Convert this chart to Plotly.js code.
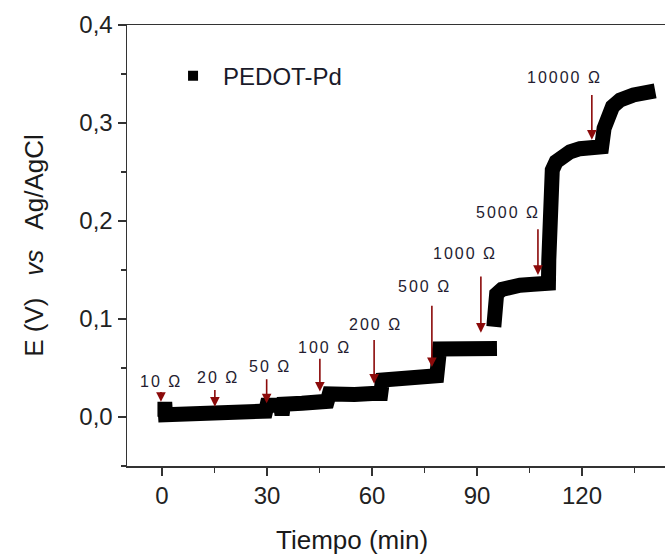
<!DOCTYPE html>
<html><head><meta charset="utf-8">
<script src="https://cdn.plot.ly/plotly-3.0.1.min.js"></script>
<style>body{margin:0;background:#fff}#chart{width:665px;height:556px}</style>
</head><body><div id="chart"></div>
<script>
// ---- data ----
const seriesName = 'PEDOT-Pd';
const timeMin = [-1.3, 0.9, 1.0, 5, 10, 15, 20, 25, 29.6,
  30.0, 33.9, 34.3, 34.7, 40, 45, 47.2,
  47.8, 50, 55, 60, 62.5,
  63.0, 67, 72, 76, 78.5,
  79.3, 85, 89, 91, 93, 95.7,
  null,
  94.8, 94.9, 95.6, 97.1, 98.9, 102.3, 106.1, 110.4,
  110.5, 110.5, 110.9, 111.5, 112.6, 114.2, 116.6, 119.4, 122.3, 124.2, 125.6,
  126.3, 127.2, 128.7, 130.9, 134.7, 140.9];
const potentialV = [0.008, 0.008, 0.0023, 0.0025, 0.003, 0.0035, 0.004, 0.005, 0.006,
  0.012, 0.012, 0.002, 0.013, 0.014, 0.016, 0.016,
  0.0235, 0.0225, 0.023, 0.024, 0.024,
  0.0378, 0.039, 0.040, 0.041, 0.042,
  0.0695, 0.070, 0.0705, 0.072, 0.0705, 0.070,
  null,
  0.0921, 0.1177, 0.1255, 0.1303, 0.133, 0.1344, 0.1354, 0.1364,
  0.16, 0.2283, 0.2418, 0.252, 0.2605, 0.2663, 0.2707, 0.2738, 0.2752, 0.2742, 0.2758,
  0.2946, 0.3064, 0.3166, 0.3235, 0.3286, 0.3327];

const resistLabels = ['10 Ω', '20 Ω', '50 Ω', '100 Ω', '200 Ω', '500 Ω', '1000 Ω', '5000 Ω', '10000 Ω'];
const labelTime = [-0.3, 16.0, 30.9, 46.3, 61.1, 74.9, 86.7, 98.9, 115.0];
const labelE = [0.0367, 0.0403, 0.052, 0.0714, 0.0949, 0.1327, 0.1668, 0.209, 0.3464];
const arrowTime = [-0.3, 15.1, 29.9, 45.1, 60.6, 77.1, 91.1, 107.4, 122.8];
const arrowTailE = [0.027, 0.029, 0.040, 0.061, 0.080, 0.115, 0.145, 0.193, 0.330];
const arrowTipE = [0.0155, 0.0105, 0.014, 0.026, 0.034, 0.051, 0.086, 0.145, 0.283];

const xTickVals = [0, 30, 60, 90, 120];
const yTickVals = [0.0, 0.1, 0.2, 0.3, 0.4];

// ---- figure ----
const traces = [
  {x: timeMin, y: potentialV, type: 'scatter', mode: 'lines', connectgaps: false,
   line: {color: '#000', width: 15}, showlegend: false, hoverinfo: 'x+y'},
  {x: [null], y: [null], type: 'scatter', mode: 'markers', name: seriesName,
   marker: {symbol: 'square', size: 10, color: '#000'}}
];

const annotations = [];
resistLabels.forEach((t, i) => {
  annotations.push({x: labelTime[i], y: labelE[i], xref: 'x', yref: 'y',
    text: '<span style="letter-spacing:2px">' + t + '</span>', showarrow: false,
    font: {family: 'Liberation Sans, Arial, sans-serif', size: 16, color: '#241c30'},
    xanchor: 'center', yanchor: 'middle'});
  annotations.push({x: arrowTime[i], y: arrowTipE[i], xref: 'x', yref: 'y',
    ax: arrowTime[i], ay: arrowTailE[i], axref: 'x', ayref: 'y',
    text: '', showarrow: true, arrowhead: 2, arrowsize: 1.2, arrowwidth: 1.6,
    arrowcolor: '#8b0a0a'});
});
annotations.push({xref: 'paper', yref: 'paper', x: 0.418, y: -0.168,
  text: 'Tiempo (min)', showarrow: false, xanchor: 'center', yanchor: 'middle',
  font: {family: 'Liberation Sans, Arial, sans-serif', size: 26, color: '#1a1a1a'}});

const layout = {
  width: 665, height: 556,
  margin: {l: 127, r: 0, t: 25, b: 90},
  paper_bgcolor: '#fff', plot_bgcolor: '#fff',
  separators: ',.',
  font: {family: 'Liberation Sans, Arial, sans-serif', color: '#222'},
  showlegend: true,
  legend: {x: 0.067, y: 0.884, xanchor: 'left', yanchor: 'middle', itemwidth: 50,
    bgcolor: 'rgba(0,0,0,0)', font: {size: 24, color: '#1a1a2a'}},
  xaxis: {range: [-10, 143.7], tickvals: xTickVals, ticks: 'outside', ticklen: 8, tickwidth: 1.5,
    tickcolor: '#333', showline: true, linecolor: '#333', linewidth: 1.5, mirror: true,
    showgrid: false, zeroline: false, tickfont: {size: 24, color: '#222'},
    minor: {dtick: 15, tick0: 0, ticks: 'outside', ticklen: 5, tickwidth: 1.5, tickcolor: '#333', showgrid: false}},
  yaxis: {range: [-0.05, 0.4], tickvals: yTickVals, tickformat: '.1f', ticks: 'outside', ticklen: 8, tickwidth: 1.5,
    tickcolor: '#333', showline: true, linecolor: '#333', linewidth: 1.5, mirror: true,
    showgrid: false, zeroline: false, tickfont: {size: 24, color: '#222'},
    minor: {dtick: 0.05, tick0: 0, ticks: 'outside', ticklen: 5, tickwidth: 1.5, tickcolor: '#333', showgrid: false},
    title: {text: 'E (V)   <i>vs</i>   Ag/AgCl', standoff: 28,
      font: {size: 26, color: '#1a1a1a', family: 'Liberation Sans, Arial, sans-serif'}}},
  annotations: annotations
};

Plotly.newPlot('chart', traces, layout, {displayModeBar: false, staticPlot: true});
</script>
</body></html>
